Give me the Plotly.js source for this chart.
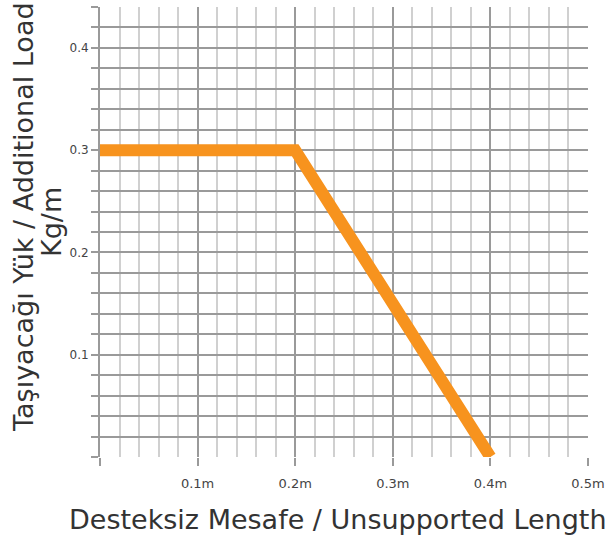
<!DOCTYPE html>
<html>
<head>
<meta charset="utf-8">
<script src="https://cdn.plot.ly/plotly-3.0.1.min.js"></script>
<style>html,body{margin:0;padding:0;background:#fff;}#chart{width:609px;height:539px;}</style>
</head>
<body>
<div id="chart"></div>
<script>
// Data
const lengthM = [0, 0.2, 0.4];
const loadKg = [0.3, 0.3, 0];
const xTickVals = [0, 0.1, 0.2, 0.3, 0.4, 0.5];
const xTickText = ['', '0.1m', '0.2m', '0.3m', '0.4m', '0.5m'];
const yTickVals = [0, 0.1, 0.2, 0.3, 0.4];
const yTickText = ['', '0.1', '0.2', '0.3', '0.4'];
const xTitle = 'Desteksiz Mesafe / Unsupported Length';
const yTitleLine1 = 'Taşıyacağı Yük / Additional Load';
const yTitleLine2 = 'Kg/m';

const trace = {
  x: lengthM, y: loadKg, mode: 'lines', type: 'scatter',
  line: {color: '#F7931E', width: 12}, hoverinfo: 'none'
};

const L = 100, R = 21, W = 609, T = 7, B = 82, H = 539;
const pw = W - L - R, ph = H - T - B;
function px2x(px) { return (px - L) / pw; }
function px2y(py) { return (H - B - py) / ph; }

const layout = {
  width: W, height: H,
  margin: {l: L, r: R, t: T, b: B},
  paper_bgcolor: '#fff', plot_bgcolor: '#fff',
  showlegend: false,
  font: {family: 'DejaVu Sans, sans-serif', color: '#333'},
  xaxis: {
    range: [0, 0.5], tickvals: xTickVals, ticktext: xTickText,
    showgrid: true, gridcolor: '#9a9a9a', gridwidth: 2,
    zeroline: false, showline: false,
    ticks: 'outside', ticklen: 8, tickwidth: 2, tickcolor: '#9a9a9a',
    ticklabelstandoff: 6,
    tickfont: {size: 13, color: '#444'},
    minor: {dtick: 0.02, showgrid: true, gridcolor: '#d0d0d0', gridwidth: 2, ticks: ''}
  },
  yaxis: {
    range: [0, 0.44], tickvals: yTickVals, ticktext: yTickText,
    showgrid: true, gridcolor: '#9a9a9a', gridwidth: 2,
    zeroline: false, showline: true, linecolor: '#9a9a9a', linewidth: 2,
    ticks: 'outside', ticklen: 7, tickwidth: 2, tickcolor: '#9a9a9a',
    tickfont: {size: 12, color: '#444'},
    minor: {dtick: 0.02, showgrid: true, gridcolor: '#9a9a9a', gridwidth: 2, ticks: 'outside', ticklen: 7, tickwidth: 2, tickcolor: '#9a9a9a'}
  },
  annotations: [
    {text: xTitle, xref: 'paper', yref: 'paper', x: px2x(338), y: px2y(519),
     xanchor: 'center', yanchor: 'middle', showarrow: false,
     font: {size: 27, color: '#333'}},
    {text: yTitleLine1, xref: 'paper', yref: 'paper', x: px2x(23), y: px2y(217),
     xanchor: 'center', yanchor: 'middle', textangle: -90, showarrow: false,
     font: {size: 27, color: '#333'}},
    {text: yTitleLine2, xref: 'paper', yref: 'paper', x: px2x(52), y: px2y(222),
     xanchor: 'center', yanchor: 'middle', textangle: -90, showarrow: false,
     font: {size: 27, color: '#333'}}
  ]
};

Plotly.newPlot('chart', [trace], layout, {staticPlot: true, displayModeBar: false});
</script>
</body>
</html>
